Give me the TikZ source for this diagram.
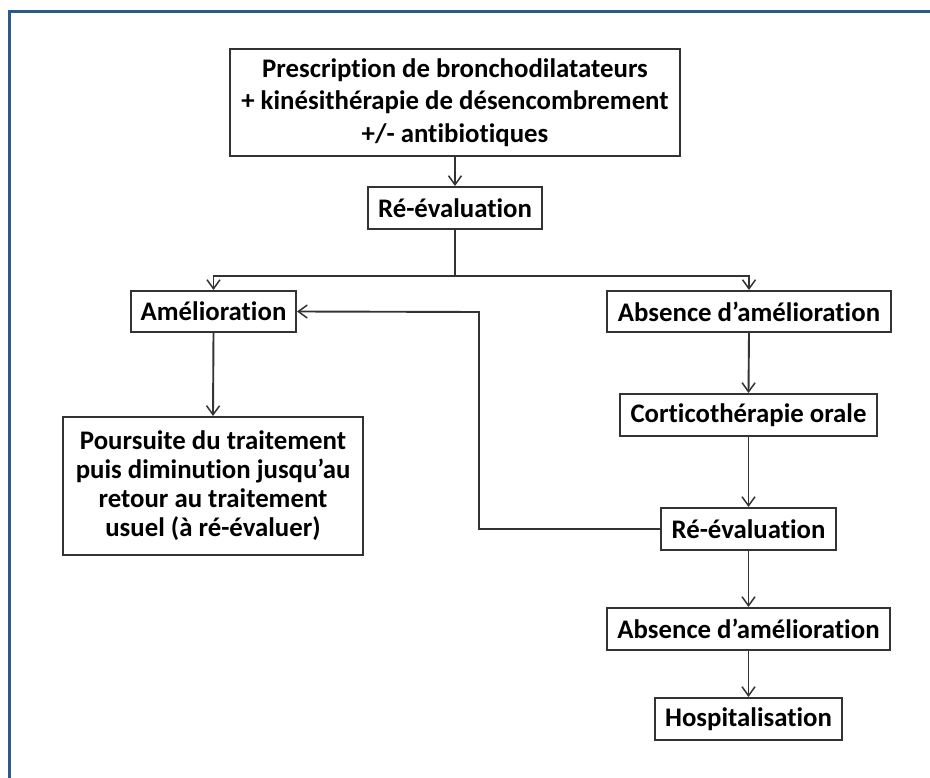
\documentclass[tikz,border=0pt]{standalone}
\usepackage{fontspec}
\setmainfont[Ligatures=NoCommon]{Carlito}
\usetikzlibrary{arrows.meta}
\definecolor{framecol}{HTML}{2B5B8A}
\definecolor{boxcol}{HTML}{333333}
\begin{document}
\begin{tikzpicture}[x=1pt,y=-1pt,
  box/.style={draw=boxcol,line width=2pt,fill=white,inner sep=0pt,align=center,
    font=\fontsize{26.8}{32.5}\selectfont\bfseries},
  tight/.style={font=\fontsize{26.8}{29}\selectfont\bfseries},
  conn/.style={draw=boxcol,line width=1.9pt},
  arr/.style={conn,-{Straight Barb[length=9pt,width=13pt,line width=1.5pt]}}]
\useasboundingbox (0,0) rectangle (930,778);
\fill[white] (0,0) rectangle (930,778);
\draw[framecol,line width=3pt] (9.5,778) -- (9.5,12) -- (930,12);
\node[box,minimum width=450pt,minimum height=107pt] (top) at (455,102.5)
  {Prescription de bronchodilatateurs\\+ kinésithérapie de désencombrement\\+/- antibiotiques};
\node[box,minimum width=174pt,minimum height=42pt] (re1) at (455,208) {Ré-évaluation};
\node[box,minimum width=165pt,minimum height=41pt] (amel) at (213.5,311.5) {Amélioration};
\node[box,minimum width=284pt,minimum height=41pt] (abs1) at (749,311.5) {Absence d’amélioration};
\node[box,tight,minimum width=300pt,minimum height=138pt] (pours) at (213,486)
  {Poursuite du traitement\\puis diminution jusqu’au\\retour au traitement\\usuel (à ré-évaluer)};
\node[box,minimum width=257pt,minimum height=42pt] (cort) at (748.5,415) {Corticothérapie orale};
\node[box,minimum width=175pt,minimum height=42pt] (re2) at (748.5,529) {Ré-évaluation};
\node[box,minimum width=283pt,minimum height=42pt] (abs2) at (748.5,629) {Absence d’amélioration};
\node[box,minimum width=187pt,minimum height=42pt] (hosp) at (748.5,719) {Hospitalisation};
\coordinate (br) at (455,276);
\coordinate (fb) at (479,312);
\draw[arr] (top.south) -- (re1.north);
\draw[conn] (re1.south) -- (br);
\draw[arr] (br) -| (amel.north);
\draw[arr] (br) -| (abs1.north);
\draw[arr] (amel.south) -- (pours.north);
\draw[arr] (abs1.south) -- (cort.north);
\draw[arr] (cort.south) -- (re2.north);
\draw[arr] (re2.west) -| (fb) -- (amel.east);
\draw[arr] (re2.south) -- (abs2.north);
\draw[arr] (abs2.south) -- (hosp.north);
\end{tikzpicture}
\end{document}
